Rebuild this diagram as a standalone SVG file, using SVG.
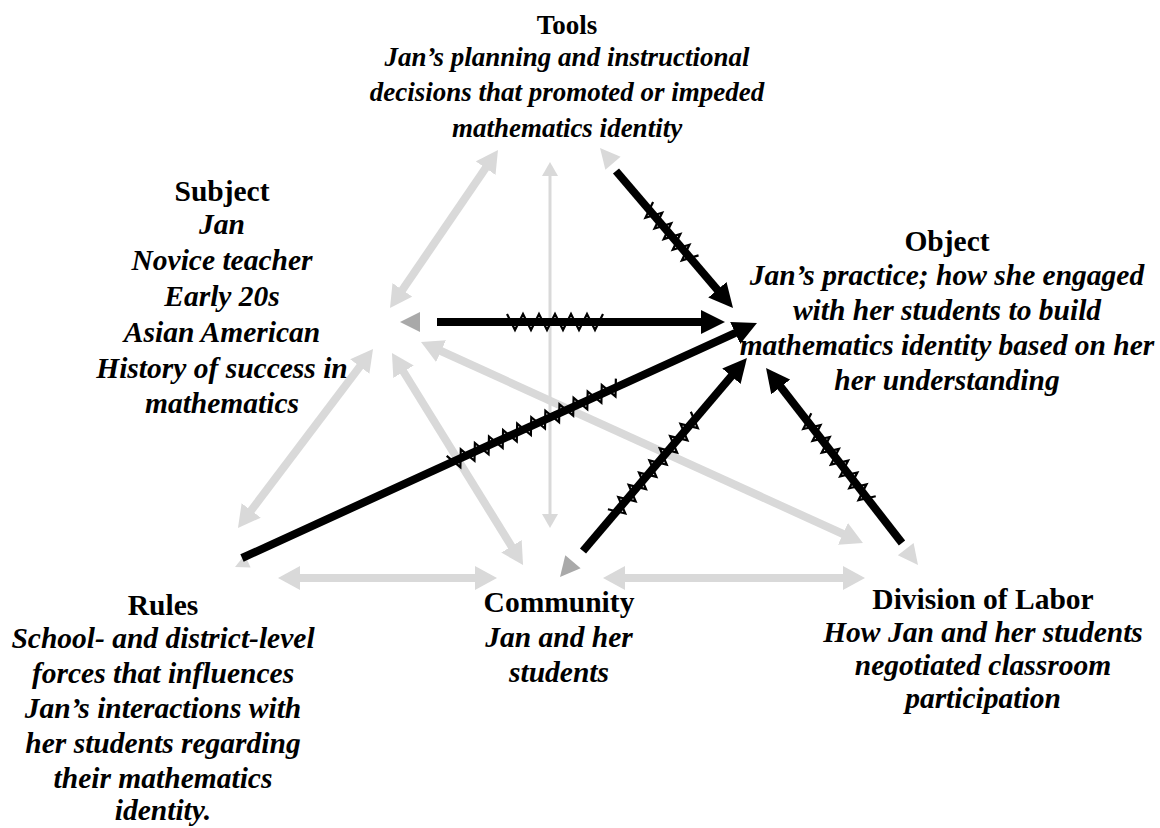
<svg xmlns="http://www.w3.org/2000/svg" width="1160" height="828" viewBox="0 0 1160 828">
<style>
.t{font-family:"Liberation Serif","Times New Roman",serif;font-weight:bold;font-size:29.5px;text-anchor:middle;fill:#000}
.d{font-style:italic}
.sm{font-size:27px}
.g{stroke:#d9d9d9;stroke-width:8;fill:none;marker-start:url(#gh);marker-end:url(#gh)}
.gt{stroke:#d9d9d9;stroke-width:3;fill:none;marker-start:url(#ght);marker-end:url(#ght)}
.b{stroke:#000;stroke-width:8;fill:none;marker-end:url(#bh)}
.z{stroke:#000;stroke-width:2.2;fill:none}
.lh{fill:#d9d9d9}
.dh{fill:#a9a9a9}
</style>
<defs>
<marker id="gh" viewBox="0 0 22 24" markerWidth="22" markerHeight="24" refX="5" refY="12" orient="auto-start-reverse" markerUnits="userSpaceOnUse"><path d="M0,0 L22,12 L0,24 z" fill="#d9d9d9"/></marker>
<marker id="ght" viewBox="0 0 14 16" markerWidth="14" markerHeight="16" refX="3" refY="8" orient="auto-start-reverse" markerUnits="userSpaceOnUse"><path d="M0,0 L14,8 L0,16 z" fill="#d9d9d9"/></marker>
<marker id="bh" viewBox="0 0 24 24" markerWidth="24" markerHeight="24" refX="4" refY="12" orient="auto" markerUnits="userSpaceOnUse"><path d="M0,0 L24,12 L0,24 z" fill="#000"/></marker>
</defs>

<g id="connectors">
<line class="g" x1="488.4" y1="164" x2="399.6" y2="294"/>
<line class="gt" x1="550" y1="173" x2="550" y2="517"/>
<line class="g" x1="362.8" y1="362.6" x2="248.2" y2="514.4"/>
<line class="g" x1="400.9" y1="367.5" x2="514.1" y2="550.5"/>
<line class="g" x1="436.5" y1="349" x2="847.5" y2="536"/>
<line class="g" x1="295" y1="578" x2="480" y2="578"/>
<line class="g" x1="620" y1="578" x2="848" y2="578"/>

<polygon class="lh" points="600,148 620.6,156.7 605.4,169.7"/>
<line class="b" x1="616" y1="171" x2="720" y2="292.8"/>
<path class="z" transform="translate(647,207.3) rotate(49.5)" d="M0,-8 l7,16 l7,-16 l7,16 l7,-16 l7,16 l7,-16 l7,16 l7,-16 l7,16 l7,-16"/>

<polygon class="dh" points="400,322 420,312 420,332"/>
<line class="b" x1="437" y1="322" x2="705" y2="322"/>
<path class="z" transform="translate(507,322)" d="M0,-8 l8,16 l8,-16 l8,16 l8,-16 l8,16 l8,-16 l8,16 l8,-16 l8,16 l8,-16 l8,16 l8,-16"/>

<polygon class="lh" points="235,567 250.6,567.6 244.8,554.8"/>
<line class="b" x1="242" y1="558" x2="738.8" y2="331.3"/>
<path class="z" transform="translate(450,463.1) rotate(-24.53)" d="M0,-8 l7.75,16 l7.75,-16 l7.75,16 l7.75,-16 l7.75,16 l7.75,-16 l7.75,16 l7.75,-16 l7.75,16 l7.75,-16 l7.75,16 l7.75,-16 l7.75,16 l7.75,-16 l7.75,16 l7.75,-16 l7.75,16 l7.75,-16 l7.75,16 l7.75,-16 l7.75,16 l7.75,-16 l7.75,16 l7.75,-16"/>

<polygon class="dh" points="560,577 580.6,568.3 565.3,555.3"/>
<line class="b" x1="583" y1="551" x2="734" y2="373.2"/>
<path class="z" transform="translate(614,514.4) rotate(-49.62)" d="M0,-8 l8,16 l8,-16 l8,16 l8,-16 l8,16 l8,-16 l8,16 l8,-16 l8,16 l8,-16 l8,16 l8,-16 l8,16 l8,-16 l8,16 l8,-16"/>

<polygon class="lh" points="918,565 913.6,543.1 897.8,555.3"/>
<line class="b" x1="902" y1="543" x2="778.3" y2="383.8"/>
<path class="z" transform="translate(805,418.2) rotate(52.15)" d="M0,-8 l7.5,16 l7.5,-16 l7.5,16 l7.5,-16 l7.5,16 l7.5,-16 l7.5,16 l7.5,-16 l7.5,16 l7.5,-16 l7.5,16 l7.5,-16 l7.5,16 l7.5,-16"/>
</g>

<g id="tools">
<text class="t sm" x="567" y="34">Tools</text>
<text class="t d sm" x="567" y="66">Jan’s planning and instructional</text>
<text class="t d sm" x="567" y="101">decisions that promoted or impeded</text>
<text class="t d sm" x="567" y="137">mathematics identity</text>
</g>

<g id="subject">
<text class="t" x="222" y="201">Subject</text>
<text class="t d" x="222" y="234">Jan</text>
<text class="t d" x="222" y="270">Novice teacher</text>
<text class="t d" x="222" y="306">Early 20s</text>
<text class="t d" x="222" y="342">Asian American</text>
<text class="t d" x="222" y="378">History of success in</text>
<text class="t d" x="222" y="413">mathematics</text>
</g>

<g id="object">
<text class="t" x="947" y="251">Object</text>
<text class="t d" x="947" y="285">Jan’s practice; how she engaged</text>
<text class="t d" x="947" y="320">with her students to build</text>
<text class="t d" x="947" y="355">mathematics identity based on her</text>
<text class="t d" x="947" y="390">her understanding</text>
</g>

<g id="rules">
<text class="t" x="163" y="615">Rules</text>
<text class="t d" x="163" y="648">School- and district-level</text>
<text class="t d" x="163" y="683">forces that influences</text>
<text class="t d" x="163" y="718">Jan’s interactions with</text>
<text class="t d" x="163" y="753">her students regarding</text>
<text class="t d" x="163" y="788">their mathematics</text>
<text class="t d" x="163" y="820">identity.</text>
</g>

<g id="community">
<text class="t" x="559" y="612">Community</text>
<text class="t d" x="559" y="647">Jan and her</text>
<text class="t d" x="559" y="682">students</text>
</g>

<g id="division">
<text class="t" x="983" y="609">Division of Labor</text>
<text class="t d" x="983" y="642">How Jan and her students</text>
<text class="t d" x="983" y="675">negotiated classroom</text>
<text class="t d" x="983" y="708">participation</text>
</g>
</svg>
